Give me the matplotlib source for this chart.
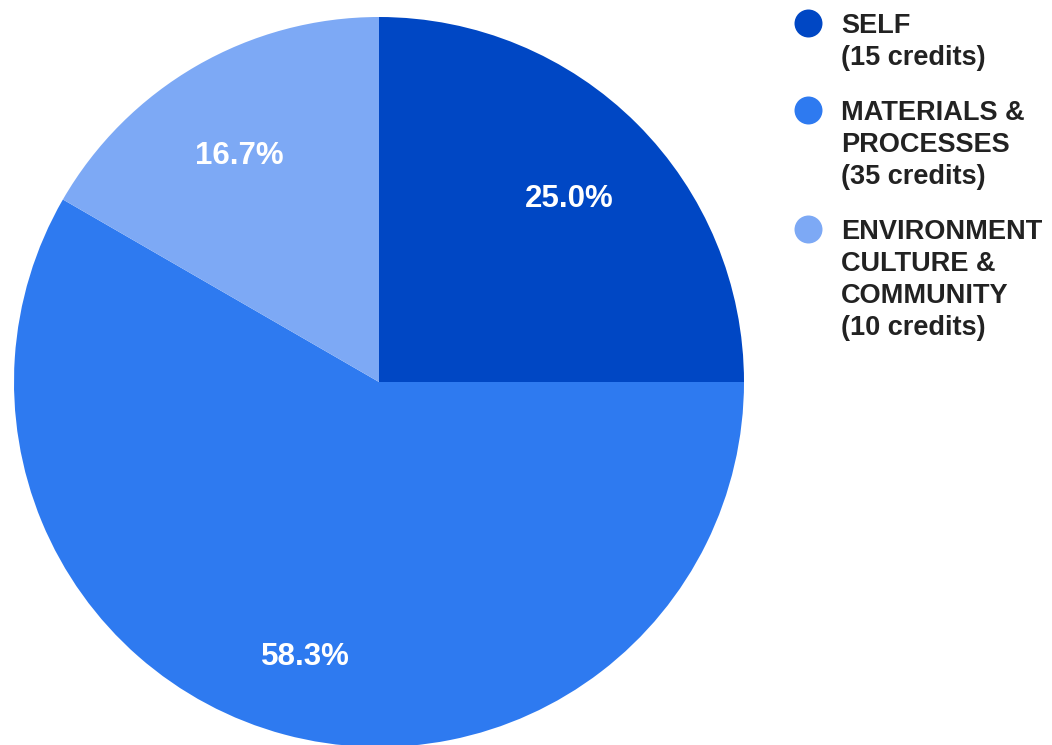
import matplotlib.pyplot as plt

plt.rcParams['font.family'] = ['Liberation Sans', 'DejaVu Sans']

# data
categories = ["SELF", "MATERIALS &\nPROCESSES", "ENVIRONMENT\nCULTURE &\nCOMMUNITY"]
credits = [15, 35, 10]
colors = ["#0047C4", "#2E7AF0", "#7DA9F5"]

W, H = 1052, 745
fig = plt.figure(figsize=(W / 100, H / 100), dpi=100)

# pie axes, centre (379, 382) px, radius 365 px
cx, cy, r = 379, 382, 365
ax = fig.add_axes([(cx - r) / W, (H - cy - r) / H, 2 * r / W, 2 * r / H])
wedges, texts, autotexts = ax.pie(credits, colors=colors, startangle=90, counterclock=False,
                                  autopct='%1.1f%%', pctdistance=0.75, radius=1,
                                  wedgeprops=dict(linewidth=0),
                                  textprops=dict(color='white', fontsize=22.5, fontweight='bold'))
for t in autotexts:
    x, y0 = t.get_position()
    t.set_position((x - 0.008, y0 - 0.03))
ax.set_xlim(-1, 1)
ax.set_ylim(-1, 1)
ax.set_aspect('auto')
ax.axis('off')

# legend, drawn by hand in pixel coords
lax = fig.add_axes([0, 0, 1, 1])
lax.set_xlim(0, W)
lax.set_ylim(H, 0)
lax.axis('off')
y = 33
for cat, n, col in zip(categories, credits, colors):
    lines = cat.split("\n") + ["(%d credits)" % n]
    lax.scatter([808], [y - 10], s=406, color=col, linewidths=0)
    for ln in lines:
        lax.text(841, y, ln, fontsize=19.5, fontweight='bold', color='#222222', va='baseline', ha='left')
        y += 32
    y += 23

fig.savefig("out.png", dpi=100)
